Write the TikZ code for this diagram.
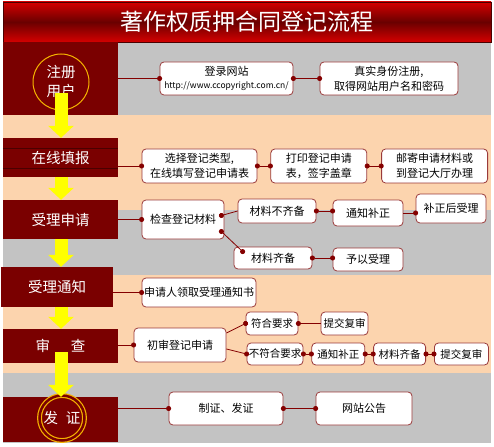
\documentclass[tikz,border=0pt]{standalone}
\usepackage{fontspec}
\setmainfont{Noto Sans CJK SC}
\usetikzlibrary{positioning,arrows.meta,calc}
\definecolor{stagered}{HTML}{7A0000}
\definecolor{stagedark}{HTML}{4A0000}
\definecolor{titlered}{HTML}{D40000}
\definecolor{titledark}{HTML}{6A0000}
\definecolor{bandgray}{HTML}{C3C3C3}
\definecolor{bandpeach}{HTML}{FCD4AE}
\definecolor{boxline}{HTML}{9A3A3A}
\definecolor{linkred}{HTML}{840000}
\definecolor{flowyellow}{HTML}{FFFF00}
\definecolor{ringgold}{HTML}{F5B400}
\tikzset{
    stage/.style={fill=stagered,text=white,minimum width=115pt,inner sep=0pt,font=\fontsize{14.5}{18}\selectfont},
    stepbox/.style={draw=boxline,fill=white,rounded corners=4pt,line width=0.8pt,inner sep=1pt,align=center,font=\fontsize{11}{15}\selectfont},
    smallbox/.style={stepbox,inner sep=0pt,minimum height=22pt,font=\fontsize{10.5}{12}\selectfont},
    link/.style={draw=linkred,line width=0.8pt,{Circle[length=5pt]}-{Circle[length=5pt]},shorten <=-2.5pt,shorten >=-2.5pt},
    feed/.style={draw=linkred,line width=0.8pt,-{Circle[length=5pt]},shorten >=-2.5pt},
    lead/.style={draw=linkred,line width=0.8pt,{Circle[length=5pt]}-,shorten <=-2.5pt},
    flow/.style={draw=flowyellow,line width=13pt,-{Triangle[width=25pt,length=12pt]}},
    ring/.style={circle,draw=ringgold,line width=1pt,inner sep=0pt},
}

\begin{document}
\begin{tikzpicture}[x=1pt,y=-1pt]
    \useasboundingbox (0,0) rectangle (494,446);
    \fill[bandgray] (3,42) rectangle (491,115);
    \fill[bandpeach] (3,115) rectangle (491,210);
    \fill[bandgray] (3,210) rectangle (491,275);
    \fill[bandpeach] (3,275) rectangle (491,373);
    \fill[bandgray] (3,373) rectangle (491,443);

    \node[draw=stagedark,line width=0.8pt,top color=titlered,bottom color=titlered,middle color=titledark,
        minimum width=488pt,minimum height=40pt,text=white,font=\fontsize{23}{23}\selectfont] (title) at (247,22) {著作权质押合同登记流程};

    \coordinate (col) at (61,0);
    \node[stage,minimum height=73pt] (reg) at (60.5,78.5) {};
    \node[ring,minimum size=56pt,text=white,align=center,font=\fontsize{14.5}{19}\selectfont] (regring) at (61,82) {注册\\用户};
    \node[stage,minimum height=39pt] (online) at (60.5,157.5) {在线填报};
    \draw[stagedark,line width=0.8pt] ([yshift=-11pt]online.north west) -- ([yshift=-11pt]online.north east);
    \draw[stagedark,line width=0.8pt] ([yshift=9pt]online.south west) -- ([yshift=9pt]online.south east);
    \node[stage,minimum height=39pt] (accept) at (60.5,219.5) {受理申请};
    \node[stage,minimum width=112pt,minimum height=40pt] (notice) at (57,287) {受理通知};
    \node[stage,minimum height=34pt] (review) at (60.5,346) {审\hspace{21pt}查};
    \node[stage,minimum height=45pt] (issue) at (60.5,419.5) {};
    \node[ring,minimum size=45pt,double=stagered,double distance=2.5pt,line width=1.2pt,text=white,font=\fontsize{14.5}{18}\selectfont] (issuering) at (62,418) {发\hspace{8pt}证};

    \node[stepbox,minimum width=133pt,minimum height=33pt] (login) at (226.5,78.5) {登录网站\\[-2pt]{\fontsize{8.5}{10}\selectfont http://www.ccopyright.com.cn/}};
    \node[stepbox,minimum width=138pt,minimum height=33pt] (realname) at (389,78.5) {真实身份注册,\\取得网站用户名和密码};

    \node[stepbox,minimum width=115pt,minimum height=34pt] (choose) at (199.5,166) {选择登记类型,\\在线填写登记申请表};
    \node[stepbox,minimum width=96pt,minimum height=34pt,right=13pt of choose] (print) {打印登记申请\\表，签字盖章};
    \node[stepbox,minimum width=106pt,minimum height=34pt,right=14pt of print] (mail) {邮寄申请材料或\\到登记大厅办理};

    \node[stepbox,minimum width=82pt,minimum height=39pt] (check) at (183,219.5) {检查登记材料};
    \node[stepbox,minimum width=78pt,minimum height=24pt] (lack) at (277,211) {材料不齐备};
    \node[stepbox,minimum width=70pt,minimum height=26pt] (notify) at (368,213) {通知补正};
    \node[stepbox,minimum width=70pt,minimum height=29pt] (after) at (451,208.5) {补正后受理};
    \node[stepbox,minimum width=78pt,minimum height=22pt] (ready) at (273,258) {材料齐备};
    \node[stepbox,minimum width=70pt,minimum height=23pt] (grant) at (368,259.5) {予以受理};

    \node[stepbox,minimum width=114pt,minimum height=29pt] (slip) at (199,292.5) {申请人领取受理通知书};

    \node[stepbox,minimum width=92pt,minimum height=34pt] (first) at (180,345) {初审登记申请};
    \node[smallbox,minimum width=52pt,minimum height=23pt] (ok) at (272,323.5) {符合要求};
    \node[smallbox,minimum width=47pt,minimum height=23pt] (okre) at (344.5,323.5) {提交复审};
    \node[smallbox,minimum width=56pt] (bad) at (275,354) {不符合要求};
    \node[smallbox,minimum width=53pt,right=8pt of bad] (badnote) {通知补正};
    \node[smallbox,minimum width=52pt,right=8pt of badnote] (badready) {材料齐备};
    \node[smallbox,minimum width=54pt,right=8pt of badready] (badre) {提交复审};

    \node[stepbox,minimum width=114pt,minimum height=33pt] (cert) at (226,408.5) {制证、发证};
    \node[stepbox,minimum width=96pt,minimum height=33pt] (announce) at (364,408.5) {网站公告};

    \draw[feed] (reg.east |- login.west) -- (login.west);
    \draw[link] (login.east) -- (realname.west);
    \draw[feed] (online.east |- choose.west) -- (choose.west);
    \draw[link] (choose.east) -- (print.west);
    \draw[link] (print.east) -- (mail.west);
    \draw[feed] (accept.east |- check.west) -- (check.west);
    \draw[lead] ($(check.east)+(-3,-4)$) -- (lack.west);
    \draw[link] ($(check.east)+(-3,12)$) -- ($(ready.north west)+(9,5)$);
    \draw[link] (lack.east) -- (lack.east -| notify.west);
    \draw[feed] (notify.east) -- (notify.east -| after.west);
    \draw[link] (ready.east) -- (ready.east -| grant.west);
    \draw[feed] (notice.east |- slip.west) -- (slip.west);
    \draw[feed] (review.east |- first.west) -- (first.west);
    \draw[feed] ($(first.east)+(0,-12)$) -- (ok.west);
    \draw[feed] ($(first.east)+(0,4)$) -- (bad.west);
    \draw[lead] (ok.east) -- (okre.west);
    \draw[link] (bad.east) -- (badnote.west);
    \draw[link] (badnote.east) -- (badready.west);
    \draw[link] (badready.east) -- (badre.west);
    \draw[feed] (issue.east |- cert.west) -- (cert.west);
    \draw[link] (cert.east) -- (announce.west);

    \draw[flow] (col |- reg.south) ++(0,-22) -- (col |- online.north);
    \draw[flow] (col |- online.south) -- (col |- accept.north);
    \draw[flow] (col |- accept.south) -- (col |- notice.north);
    \draw[flow] (col |- notice.south) -- (col |- review.north);
    \draw[flow] (col |- review.south) ++(0,-11) -- (col |- issue.north);
\end{tikzpicture}
\end{document}
